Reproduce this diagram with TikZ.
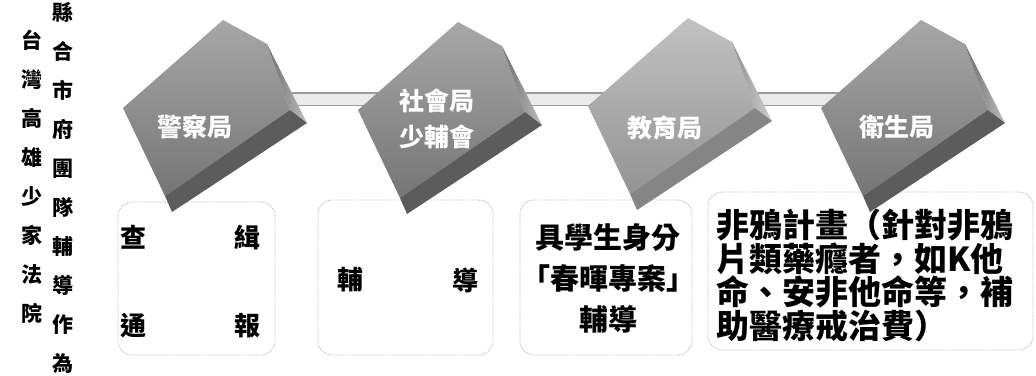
\documentclass[tikz,border=0pt]{standalone}
\usepackage{fontspec}
\setmainfont{Noto Sans CJK TC}
\definecolor{topA}{HTML}{8A8A8A}
\definecolor{sideA}{HTML}{5C5C5C}
\definecolor{topC}{HTML}{ADADAD}
\definecolor{sideC}{HTML}{858585}
\definecolor{barfill}{HTML}{EBEBEB}
\definecolor{barline}{HTML}{9A9A9A}
\begin{document}
\begin{tikzpicture}[x=1pt,y=-1pt,
  pics/blk/.style n args={2}{code={
    \shade[top color=#1!75!white, bottom color=#1!85!black] (-92,-8) -- (8,-96) -- (52,-72) -- (75,-6) -- (-50,80) -- cycle;
    \shade[left color=#2!90!white, right color=#2!40!white] (52,-72) -- (92,7) -- (75,-6) -- cycle;
    \fill[#2] (75,-6) -- (92,7) -- (-43,96) -- (-50,80) -- cycle;
  }},
  txtbox/.style={draw=gray!55, densely dotted, line width=0.9pt, rounded corners=14pt, inner sep=0pt},
  lab/.style={text=white, font=\bfseries\fontsize{25}{36}\selectfont, align=center, inner sep=0pt},
  body/.style={font=\bfseries\fontsize{26}{30}\selectfont, inner sep=0pt},
  side/.style={font=\bfseries\fontsize{21}{39}\selectfont, align=center, inner sep=0pt}
]
\useasboundingbox (0,0) rectangle (1036,375);
\fill[white] (0,0) rectangle (1036,375);

% left vertical text
\node[side, anchor=north] (colL) at (32,30) {台\\灣\\高\\雄\\少\\家\\法\\院};
\node[side, anchor=north] (colR) at (63,2) {縣\\合\\市\\府\\團\\隊\\輔\\導\\作\\為};

% centre coordinates of the blocks
\coordinate (c1) at (215,116);
\coordinate (c2) at (450,118);
\coordinate (c3) at (680,114);
\coordinate (c4) at (913,116);

% connecting bar
\draw[line width=14pt, barline] ([yshift=17pt]c1) -- ([yshift=17pt]c4);
\draw[line width=11pt, barfill] ([yshift=17pt]c1) -- ([yshift=17pt]c4);

% text boxes
\node[txtbox, minimum width=157pt, minimum height=153pt] (b1) at (196.5,278.5) {};
\node[txtbox, minimum width=175pt, minimum height=155pt] (b2) at (405.5,277.5) {};
\node[txtbox, minimum width=172pt, minimum height=155pt] (b3) at (606,277.5) {};
\node[txtbox, minimum width=325pt, minimum height=158pt] (b4) at (870.5,271) {};

% blocks
\pic at (c1) {blk={topA}{sideA}};
\pic at (c2) {blk={topA}{sideA}};
\pic at (c3) {blk={topC}{sideC}};
\pic at (c4) {blk={topA}{sideA}};

\node[lab] (l1) at (195,127) {警察局};
\node[lab] (l2) at (437,119) {社會局\\少輔會};
\node[lab] (l3) at (665,128) {教育局};
\node[lab] (l4) at (897,127) {衛生局};

% box 1
\node[body] (t1a) at (133,237) {查};
\node[body] (t1b) at (247,237) {緝};
\node[body] (t1c) at (133,326) {通};
\node[body] (t1d) at (247,326) {報};
% box 2
\node[body] (t2a) at (350,280) {輔};
\node[body] (t2b) at (465,280) {導};
% box 3
\node[font=\bfseries\fontsize{29}{41}\selectfont, align=center, inner sep=0pt] (t3) at (608,278) {具學生身分\\「春暉專案」\\輔導};
% box 4
\node[font=\bfseries\fontsize{33}{33.5}\selectfont, align=left, inner sep=0pt, anchor=north west] (t4) at (716,209) {非鴉計畫（針對非鴉\\片類藥癮者，如K他\\命、安非他命等，補\\助醫療戒治費）};
\end{tikzpicture}
\end{document}
